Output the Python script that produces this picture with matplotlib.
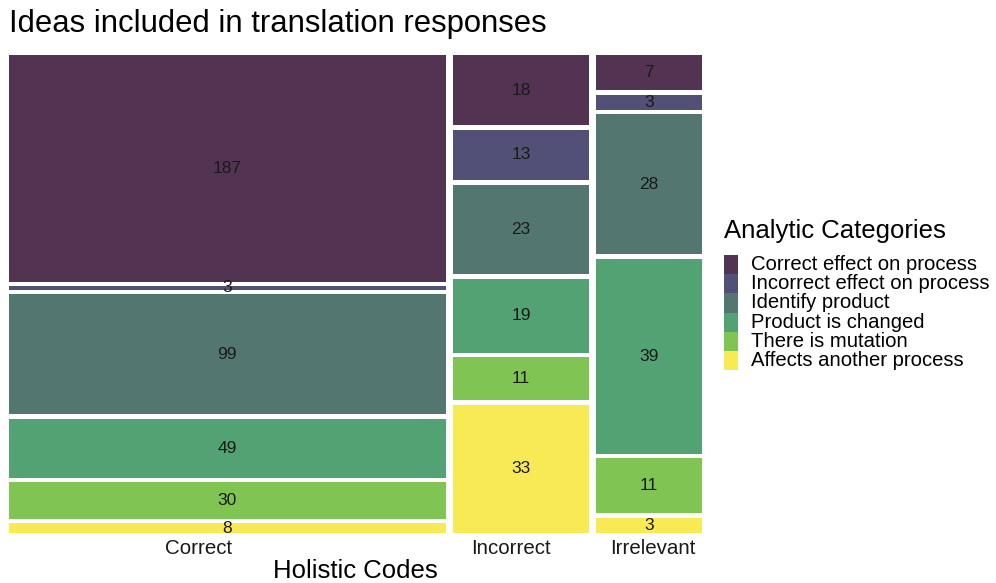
import matplotlib
matplotlib.use("Agg")
import matplotlib.pyplot as plt
from matplotlib.patches import Rectangle

plt.rcParams['font.family'] = ['Liberation Sans', 'DejaVu Sans']

holistic = ["Correct", "Incorrect", "Irrelevant"]
categories = ["Correct effect on process", "Incorrect effect on process",
              "Identify product", "Product is changed", "There is mutation",
              "Affects another process"]
# counts[category][holistic column]
correct_vals = [187, 3, 99, 49, 30, 8]
incorrect_vals = [18, 13, 23, 19, 11, 33]
irrelevant_vals = [7, 3, 28, 39, 11, 3]
colors = ["#523452", "#525076", "#537670", "#53a274", "#80c454", "#f8ea55"]

columns = [correct_vals, incorrect_vals, irrelevant_vals]

fig = plt.figure(figsize=(9.96, 5.83), dpi=100)
W, H = 996, 583
ax = fig.add_axes([9 / W, 1 - 533 / H, (702 - 9) / W, (533 - 55) / H])
ax.set_xlim(0, 1)
ax.set_ylim(0, 1)
ax.axis("off")

gx = 7.5 / 693
gy = 4.5 / 478
totals = [sum(c) for c in columns]
grand = sum(totals)
avail_x = 1 - gx * (len(columns) - 1)
x0 = 0
for ci, col in enumerate(columns):
    w = totals[ci] / grand * avail_x
    avail_y = 1 - gy * (len(col) - 1)
    ytop = 1
    for k, v in enumerate(col):
        h = v / totals[ci] * avail_y
        ax.bar(x0, h, width=w, bottom=ytop - h, align="edge",
               color=colors[k], edgecolor="none")
        ax.text(x0 + w / 2, ytop - h / 2, str(v), ha="center", va="center",
                fontsize=12.5, color="#1a1a1a")
        ytop -= h + gy
    x0 += w + gx

# tick labels (positions as in reference)
label_pos = [0.273, 0.724, 0.929]
for lbl, p in zip(holistic, label_pos):
    fig.text((9 + p * 693) / W, 1 - 549 / H, lbl, ha="center", va="center",
             fontsize=14.8, color="#1a1a1a")
fig.text(355 / W, 1 - 571 / H, "Holistic Codes", ha="center", va="center",
         fontsize=18.5)

fig.text(9 / W, 1 - 24 / H, "Ideas included in translation responses",
         ha="left", va="center", fontsize=22.3)

# legend
fig.text(724 / W, 1 - 231 / H, "Analytic Categories", ha="left", va="center",
         fontsize=18.5)
key_top = 255
key_h = 19.2
for i, (c, lab) in enumerate(zip(colors, categories)):
    y_top = key_top + i * key_h
    fig.patches.append(Rectangle((724 / W, 1 - (y_top + key_h) / H),
                                 14 / W, key_h / H, transform=fig.transFigure,
                                 facecolor=c, edgecolor="none"))
    fig.text(751 / W, 1 - (y_top + key_h / 2) / H, lab, ha="left",
             va="center", fontsize=14.6)

fig.savefig("out.png", dpi=100)
